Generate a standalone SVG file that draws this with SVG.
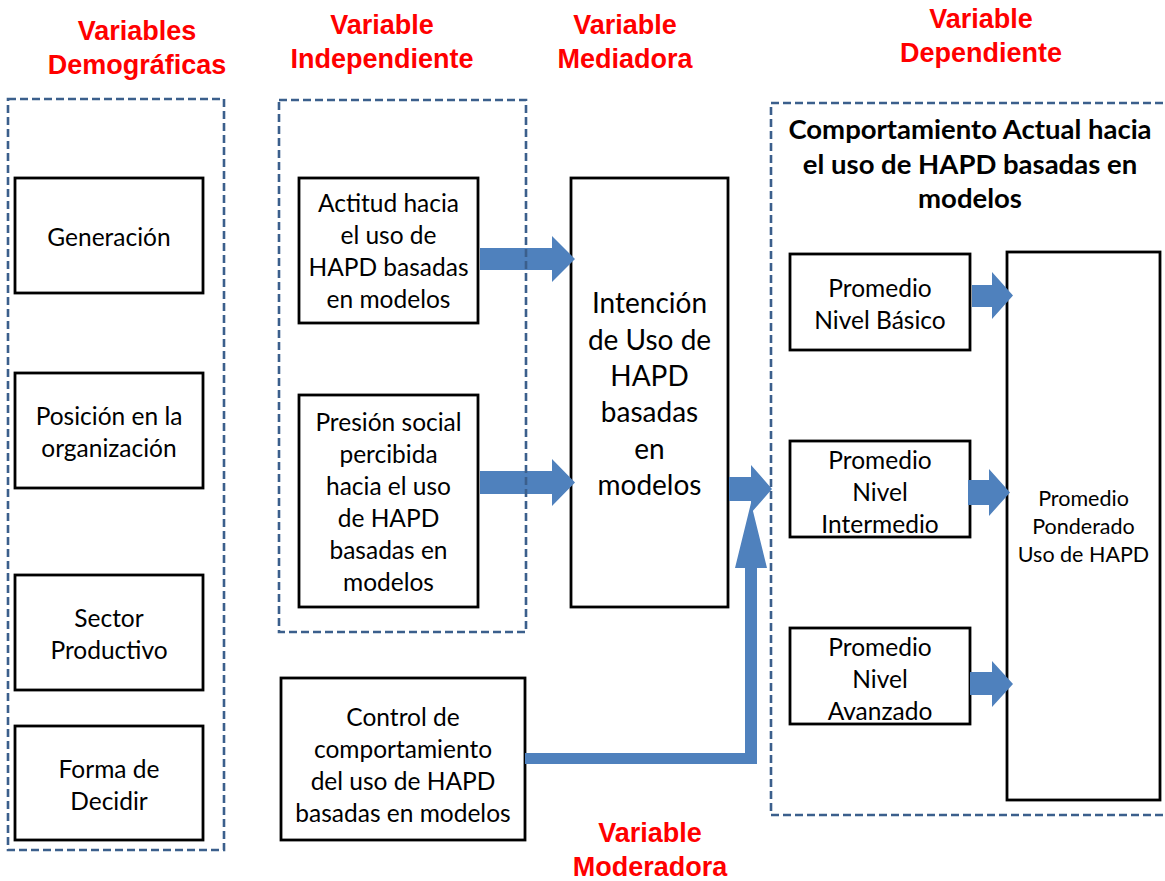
<svg xmlns="http://www.w3.org/2000/svg" width="1165" height="881" viewBox="0 0 1165 881">
<style>
.bg{fill:#ffffff}
.box{fill:#ffffff;stroke:#000000;stroke-width:2.8}
.cont{fill:none;stroke:#3B5F8C;stroke-width:2.6;stroke-dasharray:8 4}
.arr{fill:#4F81BD;stroke:none}
.t{font-family:Lato,"Liberation Sans",sans-serif;font-size:24.5px;fill:#000000;text-anchor:middle}
.big{font-size:28px}
.sm{font-size:21.5px}
.hd{font-family:Lato,"Liberation Sans",sans-serif;font-weight:bold;font-size:27.5px;fill:#000000;text-anchor:middle}
.red{font-family:"Liberation Sans",Arial,sans-serif;font-weight:bold;font-size:27px;fill:#FF0000;text-anchor:middle}
</style>
<rect class="bg" x="0" y="0" width="1165" height="881"/>

<g id="titles">
<text class="red" x="137" y="40">Variables</text>
<text class="red" x="137" y="74">Demográficas</text>
<text class="red" x="382" y="34">Variable</text>
<text class="red" x="382" y="68">Independiente</text>
<text class="red" x="625" y="34">Variable</text>
<text class="red" x="625" y="68">Mediadora</text>
<text class="red" x="981" y="28">Variable</text>
<text class="red" x="981" y="62">Dependiente</text>
<text class="red" x="650" y="842">Variable</text>
<text class="red" x="650" y="876">Moderadora</text>
</g>

<g id="n-generacion"><rect class="box" x="15" y="178" width="188" height="115"/>
<text class="t" x="109" y="246">Generación</text></g>
<g id="n-posicion"><rect class="box" x="15" y="373" width="188" height="115"/>
<text class="t" x="109" y="425">Posición en la</text><text class="t" x="109" y="457">organización</text></g>
<g id="n-sector"><rect class="box" x="15" y="575" width="188" height="115"/>
<text class="t" x="109" y="627">Sector</text><text class="t" x="109" y="659">Productivo</text></g>
<g id="n-forma"><rect class="box" x="15" y="726" width="188" height="114"/>
<text class="t" x="109" y="778">Forma de</text><text class="t" x="109" y="810">Decidir</text></g>

<g id="n-actitud"><rect class="box" x="299" y="178" width="179" height="145"/>
<text class="t" x="388.5" y="212">Actitud hacia</text><text class="t" x="388.5" y="244">el uso de</text><text class="t" x="388.5" y="276">HAPD basadas</text><text class="t" x="388.5" y="308">en modelos</text></g>
<g id="n-presion"><rect class="box" x="299" y="395" width="179" height="212"/>
<text class="t" x="388.5" y="431">Presión social</text><text class="t" x="388.5" y="463">percibida</text><text class="t" x="388.5" y="495">hacia el uso</text><text class="t" x="388.5" y="527">de HAPD</text><text class="t" x="388.5" y="559">basadas en</text><text class="t" x="388.5" y="591">modelos</text></g>
<g id="n-intencion"><rect class="box" x="571" y="178" width="157" height="429"/>
<text class="t big" x="649.5" y="313">Intención</text><text class="t big" x="649.5" y="349.5">de Uso de</text><text class="t big" x="649.5" y="386">HAPD</text><text class="t big" x="649.5" y="422">basadas</text><text class="t big" x="649.5" y="458.5">en</text><text class="t big" x="649.5" y="495">modelos</text></g>
<g id="n-control"><rect class="box" x="281" y="678" width="244" height="162"/>
<text class="t" x="403" y="726">Control de</text><text class="t" x="403" y="758">comportamiento</text><text class="t" x="403" y="790">del uso de HAPD</text><text class="t" x="403" y="822">basadas en modelos</text></g>

<g id="n-basico"><rect class="box" x="790" y="254" width="180" height="96"/>
<text class="t" x="880" y="297">Promedio</text><text class="t" x="880" y="329">Nivel Básico</text></g>
<g id="n-intermedio"><rect class="box" x="790" y="441" width="180" height="96"/>
<text class="t" x="880" y="469">Promedio</text><text class="t" x="880" y="501">Nivel</text><text class="t" x="880" y="533">Intermedio</text></g>
<g id="n-avanzado"><rect class="box" x="790" y="628" width="180" height="96"/>
<text class="t" x="880" y="656">Promedio</text><text class="t" x="880" y="688">Nivel</text><text class="t" x="880" y="720">Avanzado</text></g>
<g id="n-ponderado"><rect class="box" x="1007" y="252" width="153" height="548"/>
<text class="t sm" x="1083.5" y="506">Promedio</text><text class="t sm" x="1083.5" y="534">Ponderado</text><text class="t sm" x="1083.5" y="562">Uso de HAPD</text></g>

<g id="connectors">
<polygon class="arr" points="480,248 552,248 552,236 575,259 552,282 552,270 480,270"/>
<polygon class="arr" points="480,471 552,471 552,459 575,482.5 552,506 552,494 480,494"/>
<polygon class="arr" points="729,477 751,477 751,465 772,489 751,513 751,501 729,501"/>
<polygon class="arr" points="525,753 745,753 745,568 735,568 751,503 767,568 757,568 757,764 525,764"/>
<polygon class="arr" points="972,285 992,285 992,272 1013,295.5 992,319 992,307 972,307"/>
<polygon class="arr" points="968,480 989,480 989,469 1010,492.5 989,516 989,505 968,505"/>
<polygon class="arr" points="970,672 992,672 992,661 1013,684 992,707 992,695 970,695"/>
</g>

<g id="c-demograficas"><rect class="cont" x="8" y="99" width="216" height="751"/></g>
<g id="c-independiente"><rect class="cont" x="279" y="100" width="247" height="532"/></g>
<g id="c-dependiente"><rect class="cont" x="771" y="103" width="410" height="712"/>
<text class="hd" x="970" y="139">Comportamiento Actual hacia</text>
<text class="hd" x="970" y="174">el uso de HAPD basadas en</text>
<text class="hd" x="970" y="208">modelos</text></g>
</svg>
